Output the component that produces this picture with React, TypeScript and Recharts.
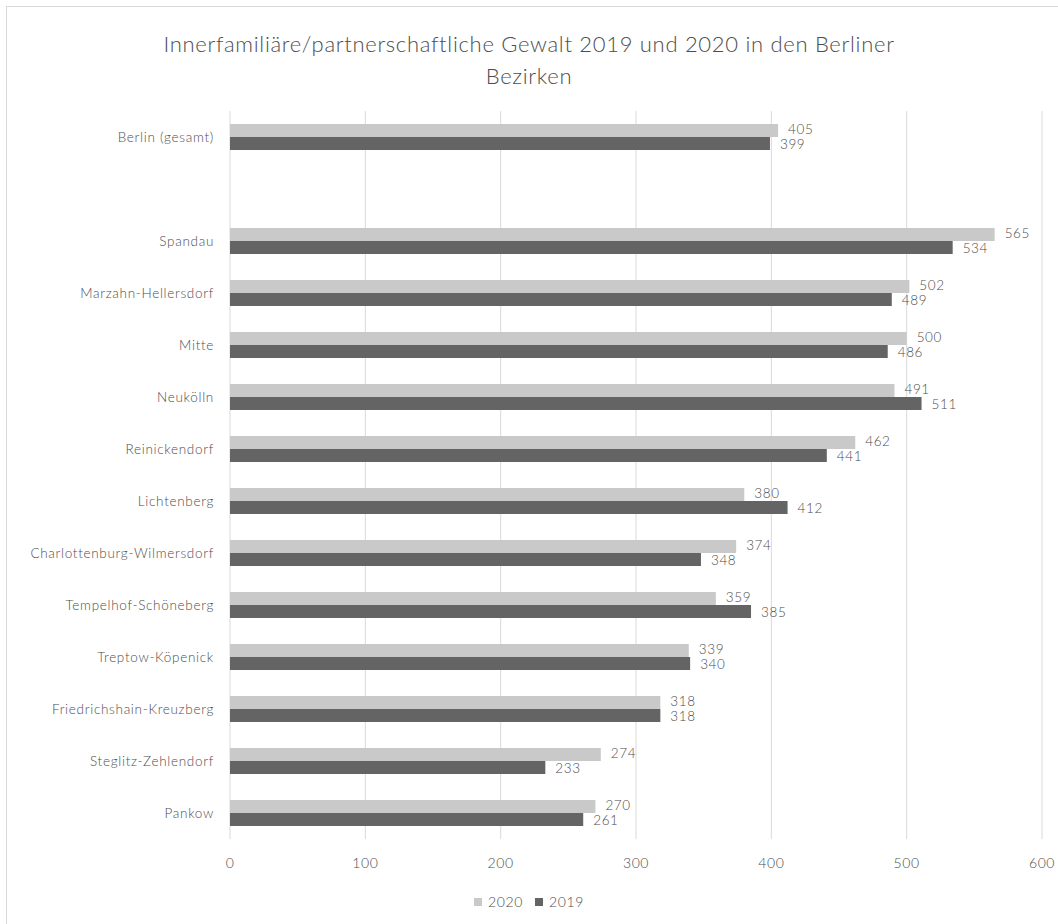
import React from "react";
import {
  BarChart,
  Bar,
  XAxis,
  YAxis,
  CartesianGrid,
  LabelList,
} from "recharts";

const bezirke = [
  "Berlin (gesamt)",
  "",
  "Spandau",
  "Marzahn-Hellersdorf",
  "Mitte",
  "Neukölln",
  "Reinickendorf",
  "Lichtenberg",
  "Charlottenburg-Wilmersdorf",
  "Tempelhof-Schöneberg",
  "Treptow-Köpenick",
  "Friedrichshain-Kreuzberg",
  "Steglitz-Zehlendorf",
  "Pankow",
];

const werte2020 = [405, null, 565, 502, 500, 491, 462, 380, 374, 359, 339, 318, 274, 270];
const werte2019 = [399, null, 534, 489, 486, 511, 441, 412, 348, 385, 340, 318, 233, 261];

const xTicks = [0, 100, 200, 300, 400, 500, 600];

const LIGHT = "#c9c9c9";
const DARK = "#646464";
const TEXT = "#4d4d4d";
const FONT = "Lato, 'Open Sans', sans-serif";

const data = bezirke.map((name, i) => ({
  name,
  y2020: werte2020[i],
  y2019: werte2019[i],
}));

const tickStyle = {
  fontSize: 14,
  fill: TEXT,
  fontFamily: FONT,
  fontWeight: 300,
  letterSpacing: 0.6,
};

function LegendItem({ color, label }: { color: string; label: string }) {
  return (
    <span style={{ display: "inline-flex", alignItems: "center", margin: "0 6px" }}>
      <span style={{ width: 8, height: 8, background: color, marginRight: 6 }} />
      <span>{label}</span>
    </span>
  );
}

export default function App() {
  return (
    <div
      style={{
        position: "absolute",
        left: 0,
        top: 0,
        width: 1058,
        height: 924,
        background: "#fff",
        fontFamily: FONT,
        color: TEXT,
      }}
    >
      {/* frame edges, only top and left are visible in the crop */}
      <div
        style={{
          position: "absolute",
          left: 6,
          top: 6,
          right: 0,
          bottom: 0,
          borderTop: "1px solid #d9d9d9",
          borderLeft: "1px solid #d9d9d9",
        }}
      />
      <div
        style={{
          position: "absolute",
          top: 28,
          left: 0,
          width: 1058,
          textAlign: "center",
          fontSize: 22,
          fontWeight: 300,
          letterSpacing: 0.7,
          lineHeight: "32px",
        }}
      >
        Innerfamiliäre/partnerschaftliche Gewalt 2019 und 2020 in den Berliner
        <br />
        Bezirken
      </div>
      <div style={{ position: "absolute", left: 0, top: 0 }}>
        <BarChart
          width={1058}
          height={924}
          data={data}
          layout="vertical"
          margin={{ top: 111, right: 16, bottom: 55, left: 0 }}
          barCategoryGap="25%"
          barGap={0}
        >
          <CartesianGrid horizontal={false} stroke="#d9d9d9" />
          <XAxis
            type="number"
            domain={[0, 600]}
            ticks={xTicks}
            axisLine={false}
            tickLine={false}
            tickSize={0}
            tickMargin={19}
            height={30}
            tick={tickStyle}
          />
          <YAxis
            type="category"
            dataKey="name"
            width={230}
            axisLine={false}
            tickLine={false}
            tickSize={0}
            tickMargin={16}
            interval={0}
            tick={{ ...tickStyle, fontSize: 13.5, letterSpacing: 0.7 }}
          />
          <Bar dataKey="y2020" fill={LIGHT} isAnimationActive={false}>
            <LabelList
              dataKey="y2020"
              position="right"
              offset={10}
              dy={-1}
              style={{ ...tickStyle, fontSize: 13.5 }}
            />
          </Bar>
          <Bar dataKey="y2019" fill={DARK} isAnimationActive={false}>
            <LabelList
              dataKey="y2019"
              position="right"
              offset={10}
              dy={1}
              style={{ ...tickStyle, fontSize: 13.5 }}
            />
          </Bar>
        </BarChart>
      </div>
      <div
        style={{
          position: "absolute",
          top: 893,
          left: 0,
          width: 1058,
          display: "flex",
          justifyContent: "center",
          fontSize: 14,
          fontWeight: 300,
          letterSpacing: 0.6,
          lineHeight: "18px",
        }}
      >
        <LegendItem color={LIGHT} label="2020" />
        <LegendItem color={DARK} label="2019" />
      </div>
    </div>
  );
}
